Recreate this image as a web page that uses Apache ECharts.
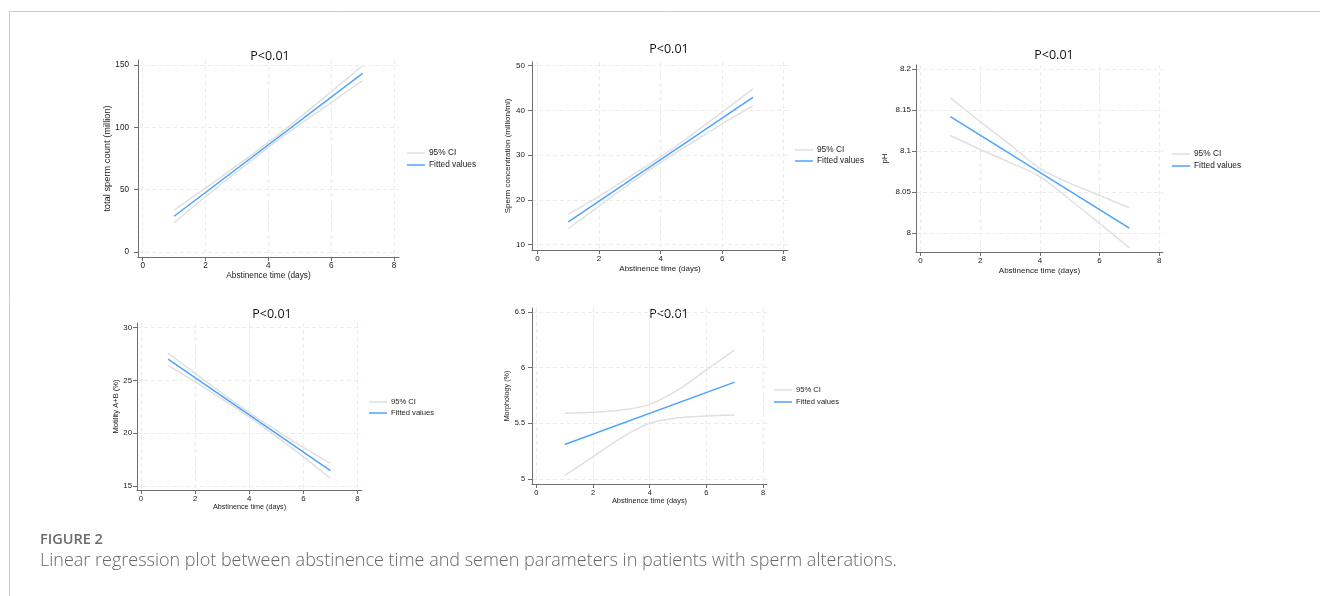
<!DOCTYPE html>
<html><head><meta charset="utf-8">
<script src="https://cdn.jsdelivr.net/npm/echarts@6/dist/echarts.min.js"></script>
<style>html,body{margin:0;padding:0;background:#fff}#c{width:1320px;height:596px}</style>
</head><body><div id="c"></div>
<script>
// ---- data ----
const xFit = [1, 7];
const xCI = [1, 2, 3, 4, 5, 6, 7];
const xTicks = [0, 2, 4, 6, 8];

const countFit = [28.7, 143.3];
const countUpper = [33.6, 51.3, 69.4, 88.0, 107.9, 128.5, 149.4];
const countLower = [23.6, 44.3, 64.4, 84.0, 102.3, 119.9, 137.4];
const countTicks = [0, 50, 100, 150];

const concFit = [15.1, 42.9];
const concUpper = [16.8, 20.8, 25.2, 29.6, 34.5, 39.6, 44.8];
const concLower = [13.6, 18.6, 23.6, 28.4, 32.7, 37.0, 41.0];
const concTicks = [10, 20, 30, 40, 50];

const phFit = [8.142, 8.006];
const phUpper = [8.165, 8.136, 8.108, 8.079, 8.061, 8.046, 8.031];
const phLower = [8.119, 8.102, 8.086, 8.069, 8.041, 8.012, 7.982];
const phTicks = [8, 8.05, 8.1, 8.15, 8.2];

const motFit = [27.03, 16.45];
const motUpper = [27.6, 25.67, 23.79, 21.96, 20.28, 18.66, 17.15];
const motLower = [26.46, 24.87, 23.23, 21.52, 19.68, 17.76, 15.73];
const motTicks = [15, 20, 25, 30];

const morFit = [5.31, 5.87];
const morUpper = [5.59, 5.60, 5.62, 5.67, 5.80, 5.98, 6.16];
const morLower = [5.03, 5.20, 5.37, 5.50, 5.55, 5.565, 5.575];
const morTicks = [5, 5.5, 6, 6.5];

const titleText = 'P<0.01';
const xName = 'Abstinence time (days)';
const legendNames = ['95% CI', 'Fitted values'];
const figLabel = 'FIGURE 2';
const caption = 'Linear regression plot between abstinence time and semen parameters in patients with sperm alterations.';

// ---- layout ----
const panels = [
  {grid:{left:138,top:60,width:261,height:197}, x:[-0.15,8.16], y:[-4,154], yTicks:countTicks, yName:'total sperm count (million)', yGap:20, xGap:15, yMargin:9,
   tfs:8.2, nfs:8.3, yfs:9.3, lfs:8.3,
   fit:countFit, up:countUpper, lo:countLower, title:[270,56], legend:[407,149], lgap:4},
  {grid:{left:532,top:62,width:256,height:188}, x:[-0.18,8.14], y:[8.8,50.8], yTicks:concTicks, yName:'Sperm concentration (million/ml)', yGap:17, xGap:15, yMargin:7,
   tfs:8, nfs:8, yfs:8, lfs:8.3,
   fit:concFit, up:concUpper, lo:concLower, title:[669,49], legend:[795,146], lgap:3},
  {grid:{left:916,top:65,width:247,height:187}, x:[-0.154,8.13], y:[7.977,8.205], yTicks:phTicks, yName:'pH', yGap:27, xGap:15, yMargin:5,
   tfs:8, nfs:8, yfs:8, lfs:8.3,
   fit:phFit, up:phUpper, lo:phLower, title:[1054,55], legend:[1172,150], lgap:4},
  {grid:{left:137,top:323,width:225,height:167}, x:[-0.148,8.166], y:[14.62,30.45], yTicks:motTicks, yName:'Motility A+B (%)', yGap:16, xGap:12, yMargin:5,
   tfs:7.8, nfs:7.2, yfs:7.6, lfs:7.6,
   fit:motFit, up:motUpper, lo:motLower, title:[272,314], legend:[369,398], lgap:3},
  {grid:{left:532,top:308,width:235,height:176}, x:[-0.155,8.141], y:[4.955,6.536], yTicks:morTicks, yName:'Morphology (%)', yGap:20, xGap:13, yMargin:7,
   tfs:7.4, nfs:7.4, yfs:7.2, lfs:7.6,
   fit:morFit, up:morUpper, lo:morLower, title:[669,314], legend:[774,386], lgap:4}
];

const FONT = 'Liberation Sans, Arial, sans-serif';
const AX = '#6e6e6e';
const TXT = '#1a1a1a';
const fmt = v => String(Number(v.toFixed(3)));
const pairs = (xs, ys) => xs.map((x, i) => [x, ys[i]]);
// thin line icon: a 1.5px band inside an 8px-tall bounding box
const LINE_ICON = 'path://M0,3.25 L18,3.25 L18,4.75 L0,4.75 Z M0,0 L0.01,0 L0.01,8 L0,8 Z';

const grids = [], xAxes = [], yAxes = [], series = [], legends = [], graphics = [];
panels.forEach((p, i) => {
  grids.push(Object.assign({outerBoundsMode:'none', containLabel:false}, p.grid));
  xAxes.push({
    type:'value', gridIndex:i, min:p.x[0], max:p.x[1],
    name:xName, nameLocation:'middle', nameGap:p.xGap,
    nameTextStyle:{fontFamily:FONT, fontSize:p.nfs, color:TXT},
    axisLine:{show:true, onZero:false, lineStyle:{color:AX, width:1}},
    axisTick:{show:true, length:4, customValues:xTicks, lineStyle:{color:AX}},
    axisLabel:{customValues:xTicks, formatter:fmt, fontFamily:FONT, fontSize:p.tfs, color:TXT, margin:5},
    splitLine:{show:true, lineStyle:{type:[4,3], color:'#ebebeb', width:1}}
  });
  yAxes.push({
    type:'value', gridIndex:i, min:p.y[0], max:p.y[1],
    name:p.yName, nameLocation:'middle', nameGap:p.yGap, nameRotate:90,
    nameTextStyle:{fontFamily:FONT, fontSize:p.yfs, color:TXT},
    axisLine:{show:true, onZero:false, lineStyle:{color:AX, width:1}},
    axisTick:{show:true, length:4, customValues:p.yTicks, lineStyle:{color:AX}},
    axisLabel:{customValues:p.yTicks, formatter:fmt, fontFamily:FONT, fontSize:p.tfs, color:TXT, margin:p.yMargin},
    splitLine:{show:true, lineStyle:{type:[4,3], color:'#ebebeb', width:1}}
  });
  const ciStyle = {color:'#e0e0e0', width:1.5};
  series.push({type:'line', name:'95% CI', xAxisIndex:i, yAxisIndex:i, data:pairs(xCI, p.up), symbol:'none', smooth:0.35, lineStyle:ciStyle, itemStyle:{color:'#e0e0e0'}, silent:true, z:1});
  series.push({type:'line', name:'95% CI', xAxisIndex:i, yAxisIndex:i, data:pairs(xCI, p.lo), symbol:'none', smooth:0.35, lineStyle:ciStyle, itemStyle:{color:'#e0e0e0'}, silent:true, z:1});
  series.push({type:'line', name:'Fitted values', xAxisIndex:i, yAxisIndex:i, data:pairs(xFit, p.fit), symbol:'none', lineStyle:{color:'#4da3ff', width:1.5}, itemStyle:{color:'#4da3ff'}, silent:true, z:2});
  legends.push({
    data:legendNames.map(n => ({name:n, icon:LINE_ICON})), orient:'vertical', left:p.legend[0], top:p.legend[1], padding:0,
    itemWidth:18, itemHeight:8, itemGap:p.lgap, selectedMode:false,
    textStyle:{fontFamily:FONT, fontSize:p.lfs, color:TXT, padding:[0,0,0,-1]}
  });
  graphics.push({type:'text', x:p.title[0], y:p.title[1], silent:true,
    style:{text:titleText, fontFamily:'Open Sans, sans-serif', fontSize:12.5, fill:'#111', align:'center', verticalAlign:'middle'}});
});

// frame and caption
graphics.push({type:'line', silent:true, shape:{x1:9, y1:11.5, x2:1320, y2:11.5}, style:{stroke:'#cccccc', lineWidth:1}});
graphics.push({type:'line', silent:true, shape:{x1:9.5, y1:11, x2:9.5, y2:596}, style:{stroke:'#cccccc', lineWidth:1}});
graphics.push({type:'text', x:40, y:540, silent:true, style:{text:figLabel, fontFamily:'Open Sans, sans-serif', fontWeight:600, fontSize:14.5, fill:'#6b6b6b', verticalAlign:'middle'}});
graphics.push({type:'text', x:40, y:561, silent:true, style:{text:caption, fontFamily:'Open Sans, sans-serif', fontWeight:300, fontSize:18, fill:'#666', verticalAlign:'middle'}});

const chart = echarts.init(document.getElementById('c'), null, {renderer:'canvas'});
chart.setOption({
  animation:false,
  backgroundColor:'#ffffff',
  grid:grids, xAxis:xAxes, yAxis:yAxes, series:series, legend:legends, graphic:graphics
});
</script></body></html>
